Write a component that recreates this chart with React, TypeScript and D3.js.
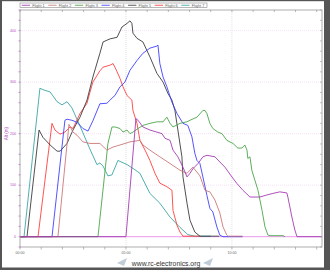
import React from "react";
import * as d3 from "d3";

type Pt = [number, number];

const seriesNames = ["Flight 1", "Flight 2", "Flight 3", "Flight 4", "Flight 5", "Flight 6", "Flight 7"];
const seriesColors = ["#a030b0", "#c87070", "#40a040", "#3535ff", "#303030", "#ff3535", "#30a0a0"];

// time in minutes, altitude in metres
const flight1: Pt[] = [[0,0],[5.0,0],[5.47,229],[5.57,226],[5.8,213],[6.13,207],[6.46,203],[6.7,200],[6.84,191],[7.08,187],[7.22,168],[7.45,155],[7.69,135],[7.88,116],[8.02,123],[8.16,132],[8.4,142],[8.63,155],[8.82,158],[9.2,155],[9.43,145],[9.67,135],[10.0,116],[10.24,103],[10.52,90],[10.85,77],[11.32,77],[11.65,81],[11.93,84],[12.26,87],[12.59,85],[12.64,77],[12.83,38],[12.97,13],[13.07,0],[14.25,0]];
const flight2: Pt[] = [[0,0],[1.79,0],[2.31,218],[2.5,203],[2.69,197],[2.97,184],[3.3,181],[3.77,181],[4.1,168],[4.39,174],[4.72,178],[5.19,184],[5.66,187],[5.8,178],[6.13,168],[6.6,155],[7.08,142],[7.55,129],[7.88,123],[8.16,135],[8.49,118],[8.73,90],[8.96,87],[9.2,71],[9.43,46],[9.58,19],[9.76,3],[9.81,1],[10.5,1]];
const flight3: Pt[] = [[0,0],[3.68,0],[4.15,181],[4.34,213],[4.48,213],[4.72,210],[4.86,203],[5.05,207],[5.19,200],[5.33,203],[5.57,210],[5.8,216],[6.13,220],[6.46,223],[6.75,223],[6.93,232],[7.08,220],[7.22,213],[7.55,220],[7.88,223],[8.02,226],[8.35,232],[8.63,245],[8.73,245],[8.82,239],[8.96,220],[9.1,210],[9.34,203],[9.53,200],[9.76,187],[10.05,181],[10.28,172],[10.47,172],[10.61,178],[10.71,168],[10.75,152],[10.85,155],[10.94,129],[11.08,110],[11.23,90],[11.42,51],[11.56,19],[11.7,3],[11.8,2],[12.41,2],[12.5,0]];
const flight4: Pt[] = [[0,0],[1.51,0],[2.12,226],[2.22,228],[2.45,226],[2.69,222],[2.97,210],[3.21,205],[3.44,225],[3.77,258],[4.1,259],[4.25,265],[4.39,271],[4.48,274],[4.72,291],[4.95,300],[5.19,323],[5.52,342],[5.8,356],[6.13,366],[6.46,370],[6.51,372],[6.6,336],[6.75,310],[6.93,291],[7.17,261],[7.41,239],[7.69,220],[7.92,216],[8.11,194],[8.25,162],[8.35,148],[8.49,142],[8.63,116],[8.82,80],[8.96,55],[9.1,48],[9.29,19],[9.43,3],[9.58,0],[10.5,0]];
const flight5: Pt[] = [[0,0],[0.33,0],[0.9,207],[1.08,193],[1.42,178],[1.75,166],[1.89,166],[2.22,181],[2.5,207],[2.83,232],[3.16,265],[3.44,310],[3.77,356],[3.92,378],[4.25,384],[4.58,387],[4.81,407],[5.05,414],[5.19,419],[5.28,414],[5.33,395],[5.52,385],[5.8,378],[6.13,349],[6.46,317],[6.75,300],[6.98,278],[7.17,265],[7.31,245],[7.45,207],[7.64,155],[7.69,116],[7.88,65],[8.02,32],[8.25,9],[8.49,1],[9.4,1]];
const flight6: Pt[] = [[0,0],[0.85,0],[1.51,220],[1.65,207],[1.89,199],[2.12,203],[2.36,213],[2.5,210],[2.83,239],[3.16,259],[3.3,280],[3.44,300],[3.77,322],[3.92,329],[4.25,333],[4.39,336],[4.48,329],[4.58,320],[4.72,307],[4.86,291],[5.05,274],[5.28,265],[5.33,245],[5.52,220],[5.66,187],[5.9,168],[6.13,148],[6.37,123],[6.6,104],[6.93,97],[7.17,90],[7.22,51],[7.41,22],[7.55,9],[7.69,1],[8.5,1]];
const flight7: Pt[] = [[0,0],[0.19,0],[0.94,288],[1.18,284],[1.42,281],[1.75,262],[1.98,256],[2.22,262],[2.45,250],[2.83,215],[3.3,170],[3.63,140],[3.77,143],[3.92,137],[4.15,118],[4.34,120],[4.62,148],[5.05,140],[5.42,130],[5.66,123],[6.13,84],[6.6,65],[7.08,38],[7.55,18],[7.92,4],[8.25,1],[9.0,1]];

const flights = [flight1, flight2, flight3, flight4, flight5, flight6, flight7];
const drawOrder = [6, 5, 4, 3, 2, 1, 0];

const xMajorTicks = [0, 5, 10];
const xTickLabels = ["00:00", "05:00", "10:00"];
const yMajorTicks = [0, 100, 200, 300, 400];
const yGridTicks = [100, 200, 300, 400];

const W = 330, H = 270;
const L = 20, R = 322, T = 10, B = 247;

export default function App() {
  const x = d3.scaleLinear().domain([0, 14.25]).range([L, R]);
  const y = d3.scaleLinear().domain([-20, 440]).range([B, T]);
  const line = d3.line<Pt>().x(d => x(d[0])).y(d => y(d[1]));
  const xMinor = d3.range(0, 14.25, 1);
  const yMinor = d3.range(-20, 441, 20);
  const axisCol = "#999";
  const purple = "#b050c0";

  return (
    <svg width={W} height={H} style={{ position: "absolute", left: 0, top: 0, background: "#fff" }}
      fontFamily="'Liberation Sans', Arial, sans-serif">
      <rect x={0} y={0} width={W} height={H} fill="#fff" />
      {yGridTicks.map(v => (
        <line key={"gy" + v} x1={L} x2={R} y1={y(v)} y2={y(v)} stroke="#f4d4f4" strokeWidth={0.7} strokeDasharray="1,1" />
      ))}
      {xMajorTicks.slice(1).map(v => (
        <line key={"gx" + v} x1={x(v)} x2={x(v)} y1={T} y2={B} stroke="#d4d4d4" strokeWidth={0.7} strokeDasharray="1,1" />
      ))}
      <line x1={L} x2={R} y1={y(0)} y2={y(0)} stroke="#ea98ea" strokeWidth={1} />
      {drawOrder.map(i => (
        <path key={"s" + i} d={line(flights[i]) || ""} fill="none" stroke={seriesColors[i]} strokeWidth={0.85} strokeLinejoin="round" />
      ))}
      <rect x={L} y={T} width={R - L} height={B - T} fill="none" stroke={axisCol} strokeWidth={0.8} />
      {xMinor.map(v => (
        <g key={"xt" + v}>
          <line x1={x(v)} x2={x(v)} y1={B} y2={B + 2.5} stroke={axisCol} strokeWidth={0.7} />
          <line x1={x(v)} x2={x(v)} y1={T} y2={T + 2} stroke={axisCol} strokeWidth={0.7} />
        </g>
      ))}
      {xMajorTicks.map((v, i) => (
        <text key={"xl" + v} x={x(v)} y={253.5} fontSize={3.6} fill="#666" textAnchor="middle">{xTickLabels[i]}</text>
      ))}
      {yMinor.map(v => (
        <g key={"yt" + v}>
          <line x1={L - 1.5} x2={L + 0.5} y1={y(v)} y2={y(v)} stroke={purple} strokeWidth={0.6} />
          <line x1={R - 2} x2={R} y1={y(v)} y2={y(v)} stroke={axisCol} strokeWidth={0.6} />
        </g>
      ))}
      {yMajorTicks.map(v => (
        <text key={"yl" + v} x={16} y={y(v) + 1.2} fontSize={3.6} fill={purple} textAnchor="end">{v}</text>
      ))}
      <text transform={`translate(7.5,${y(200)}) rotate(-90)`} fontSize={4.5} fill={purple} textAnchor="middle">Alt (m)</text>
      <rect x={20} y={3} width={187} height={4.5} fill="#fff" stroke="#888" strokeWidth={0.6} />
      {seriesNames.map((n, i) => {
        const lx = 21.7 + i * 26.6;
        return (
          <g key={"lg" + i}>
            <line x1={lx} x2={lx + 8.3} y1={5.25} y2={5.25} stroke={seriesColors[i]} strokeWidth={0.8} />
            <text x={lx + 10.5} y={6.6} fontSize={3.8} fill="#666">{n}</text>
          </g>
        );
      })}
      <text x={166} y={265.5} fontSize={6.8} fill="#333" textAnchor="middle">www.rc-electronics.org</text>
      <polygon points="117,263 127,258 124,266" fill="#c0ccd8" />
      <polygon points="203,263 213,258 210,266" fill="#c0ccd8" />
      <rect x={0} y={0} width={2} height={H} fill="#555" />
      <rect x={0} y={0} width={W} height={1.2} fill="#555" />
      <rect x={324} y={0} width={6} height={H} fill="#555" />
      <rect x={0} y={267.5} width={W} height={2.5} fill="#555" />
    </svg>
  );
}
